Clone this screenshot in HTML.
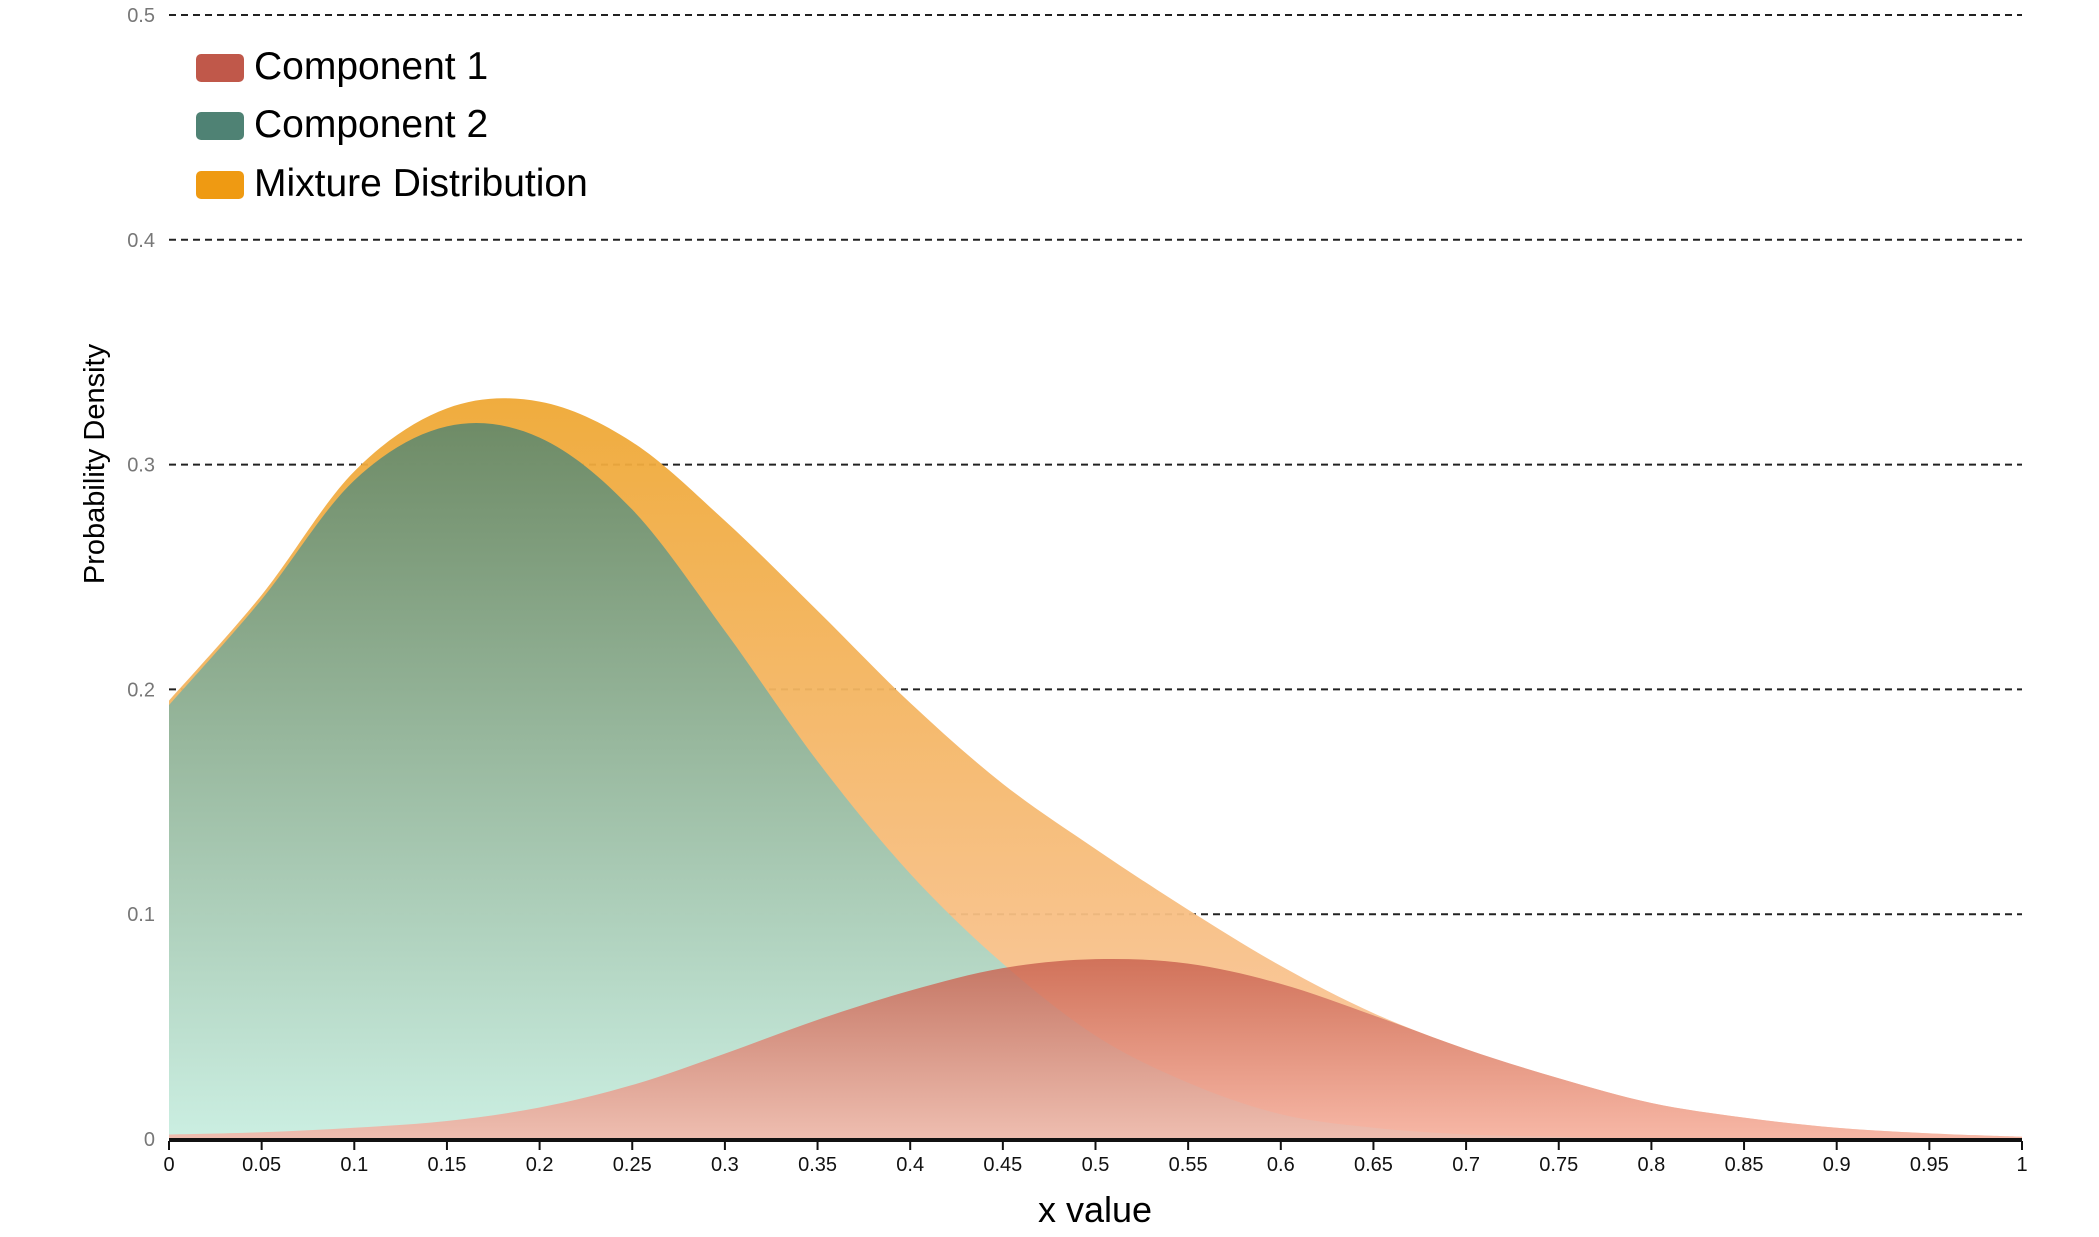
<!DOCTYPE html>
<html><head><meta charset="utf-8"><style>
html,body{margin:0;padding:0;background:#fff;}
svg{display:block;font-family:"Liberation Sans",sans-serif;}
</style></head><body>
<svg id="chart" width="2099" height="1237" viewBox="0 0 2099 1237">
<defs>
<linearGradient id="gMix" x1="0" y1="0" x2="0" y2="1"><stop offset="0" stop-color="#efa834"/><stop offset="1" stop-color="#fbc9a6"/></linearGradient>
<linearGradient id="gC2" x1="0" y1="0" x2="0" y2="1"><stop offset="0" stop-color="#698a68"/><stop offset="1" stop-color="#c9f0e4"/></linearGradient>
<linearGradient id="gC1" x1="0" y1="0" x2="0" y2="1"><stop offset="0" stop-color="#c8604e"/><stop offset="1" stop-color="#f6b3a5"/></linearGradient>
</defs>
<g id="grid"></g>
<g id="areas"></g>
<g id="axes"></g>
<g>
<g><rect x="196" y="54" width="48" height="28" rx="5" fill="#c0584a"/><text x="254" y="79" font-size="39">Component 1</text></g>
<g><rect x="196" y="112" width="48" height="28" rx="5" fill="#4f8274"/><text x="254" y="137" font-size="39">Component 2</text></g>
<g><rect x="196" y="171" width="48" height="28" rx="5" fill="#ef9a12"/><text x="254" y="196" font-size="39">Mixture Distribution</text></g>
</g>
<text x="0" y="0" transform="translate(104,464) rotate(-90)" text-anchor="middle" font-size="29">Probability Density</text>
<text x="1095" y="1234" text-anchor="middle" font-size="36" dy="-12">x value</text>
</svg>
<script>
const xs = [0,0.05,0.1,0.15,0.2,0.25,0.3,0.35,0.4,0.45,0.5,0.55,0.6,0.65,0.7,0.75,0.8,0.85,0.9,0.95,1];
const mixture = [0.195,0.242,0.297,0.325,0.328,0.31,0.275,0.235,0.194,0.158,0.129,0.102,0.077,0.056,0.04,0.027,0.016,0.0095,0.005,0.0025,0.001];
const comp2 = [0.193,0.24,0.293,0.317,0.312,0.28,0.226,0.168,0.118,0.078,0.046,0.025,0.011,0.005,0.002,0.001,0,0,0,0,0];
const comp1 = [0.002,0.003,0.005,0.008,0.014,0.024,0.038,0.053,0.066,0.076,0.08,0.078,0.069,0.055,0.04,0.027,0.016,0.0095,0.005,0.0025,0.001];
const yTicks = [0,0.1,0.2,0.3,0.4,0.5];
const xTickLabels = ["0","0.05","0.1","0.15","0.2","0.25","0.3","0.35","0.4","0.45","0.5","0.55","0.6","0.65","0.7","0.75","0.8","0.85","0.9","0.95","1"];

const X0=169, X1=2022, Y0=1139, Y1=15;
const sx = v => X0 + v*(X1-X0);
const sy = v => Y0 - v/0.5*(Y0-Y1);
const NS="http://www.w3.org/2000/svg";
function mk(tag, attrs, parent){const e=document.createElementNS(NS,tag);for(const k in attrs)e.setAttribute(k,attrs[k]);parent.appendChild(e);return e;}

const grid=document.getElementById('grid');
yTicks.forEach(t=>{
  if(t>0){
    const l=mk('line',{x1:X0,x2:X1,y1:sy(t),y2:sy(t),stroke:'#222','stroke-width':2,'stroke-dasharray':'7,5'},grid);
    
    
  }
  const tx=mk('text',{x:X0-14,y:sy(t)+7,'text-anchor':'end','font-size':20,fill:'#777'},grid);
  tx.textContent=String(t);
  
  
});

function smoothPath(vals){
  const p=xs.map((x,i)=>[sx(x),sy(vals[i])]);
  let d='M'+p[0][0]+','+p[0][1];
  for(let i=0;i<p.length-1;i++){
    const p0=p[Math.max(0,i-1)],p1=p[i],p2=p[i+1],p3=p[Math.min(p.length-1,i+2)];
    let c1y=p1[1]+(p2[1]-p0[1])/6, c2y=p2[1]-(p3[1]-p1[1])/6;
    c1y=Math.min(c1y,Y0); c2y=Math.min(c2y,Y0);
    d+=' C'+(p1[0]+(p2[0]-p0[0])/6)+','+c1y+' '+(p2[0]-(p3[0]-p1[0])/6)+','+c2y+' '+p2[0]+','+p2[1];
  }
  d+=' L'+sx(1)+','+Y0+' L'+sx(0)+','+Y0+' Z';
  return d;
}
const areas=document.getElementById('areas');
const aMix=mk('path',{d:smoothPath(mixture),fill:'url(#gMix)','fill-opacity':0.95},areas);


const aC2=mk('path',{d:smoothPath(comp2),fill:'url(#gC2)','fill-opacity':0.96},areas);


const aC1=mk('path',{d:smoothPath(comp1),fill:'url(#gC1)','fill-opacity':0.82},areas);



const axes=document.getElementById('axes');
const base=mk('line',{x1:X0,x2:X1,y1:Y0+1,y2:Y0+1,stroke:'#111','stroke-width':4},axes);


xs.forEach((x,i)=>{
  const tk=mk('line',{x1:sx(x),x2:sx(x),y1:Y0+2,y2:Y0+11,stroke:'#111','stroke-width':2},axes);
  
  
  const tx=mk('text',{x:sx(x),y:Y0+32,'text-anchor':'middle','font-size':20,fill:'#111'},axes);
  tx.textContent=xTickLabels[i];
  
  
});
</script>
</body></html>
